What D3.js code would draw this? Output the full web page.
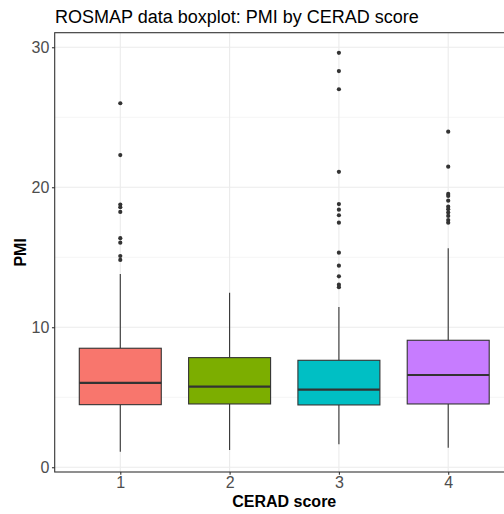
<!DOCTYPE html>
<html>
<head>
<meta charset="utf-8">
<script src="https://cdn.jsdelivr.net/npm/d3@7"></script>
<style>
html,body{margin:0;padding:0;background:#fff;}
svg{display:block;font-family:"Liberation Sans",Arial,Helvetica,sans-serif;}
</style>
</head>
<body>
<svg id="chart" width="504" height="514"></svg>
<script>
const categories = ["1", "2", "3", "4"];
const colors = ["#F8766D", "#7CAE00", "#00BFC4", "#C77CFF"];
const q1 = [4.47, 4.52, 4.45, 4.52];
const medians = [6.02, 5.76, 5.54, 6.59];
const q3 = [8.5, 7.83, 7.64, 9.07];
const whiskerLow = [1.11, 1.24, 1.64, 1.4];
const whiskerHigh = [13.8, 12.46, 11.45, 15.64];
const outliers1 = [26.0, 22.3, 18.76, 18.57, 18.24, 16.36, 16.04, 15.09, 14.81];
const outliers2 = [];
const outliers3 = [29.6, 28.3, 27.0, 21.1, 18.8, 18.4, 18.0, 17.47, 15.33, 14.4, 13.64, 13.04, 12.86];
const outliers4 = [23.97, 21.47, 19.52, 19.38, 19.04, 18.61, 18.43, 18.19, 17.95, 17.66, 17.47];
const yTicks = [0, 10, 20, 30];
const yMinor = [5, 15, 25];

const outliers = [outliers1, outliers2, outliers3, outliers4];

(function() {
const svg = d3.select("#chart");
const pL = 54.7, pR = 513.8, pT = 32.7, pB = 472;

const x = d3.scalePoint().domain(categories).range([pL, pR]).padding(0.6);
const y = d3.scaleLinear().domain([-0.34, 31.04]).range([pB, pT]);
const step = x.step();
const bw = step * 0.75;

const g = svg.append("g");
g.append("rect").attr("x", pL).attr("y", pT).attr("width", pR - pL).attr("height", pB - pT).attr("fill", "#fff");

// grid
g.selectAll(".ymin").data(yMinor).enter().append("line")
  .attr("x1", pL).attr("x2", pR).attr("y1", d => y(d)).attr("y2", d => y(d))
  .attr("stroke", "#EBEBEB").attr("stroke-width", 0.55);
g.selectAll(".ymaj").data(yTicks).enter().append("line")
  .attr("x1", pL).attr("x2", pR).attr("y1", d => y(d)).attr("y2", d => y(d))
  .attr("stroke", "#EBEBEB").attr("stroke-width", 1.1);
g.selectAll(".xmaj").data(categories).enter().append("line")
  .attr("x1", d => x(d)).attr("x2", d => x(d)).attr("y1", pT).attr("y2", pB)
  .attr("stroke", "#EBEBEB").attr("stroke-width", 1.1);

// boxes
const data = categories.map((c, i) => ({c, i, q1: q1[i], med: medians[i], q3: q3[i], lo: whiskerLow[i], hi: whiskerHigh[i], out: outliers[i], col: colors[i]}));
const bg = g.selectAll(".box").data(data).enter().append("g");
bg.append("line").attr("x1", d => x(d.c)).attr("x2", d => x(d.c))
  .attr("y1", d => y(d.hi)).attr("y2", d => y(d.q3)).attr("stroke", "#333").attr("stroke-width", 1.1);
bg.append("line").attr("x1", d => x(d.c)).attr("x2", d => x(d.c))
  .attr("y1", d => y(d.lo)).attr("y2", d => y(d.q1)).attr("stroke", "#333").attr("stroke-width", 1.1);
bg.append("rect").attr("x", d => x(d.c) - bw / 2).attr("width", bw)
  .attr("y", d => y(d.q3)).attr("height", d => y(d.q1) - y(d.q3))
  .attr("fill", d => d.col).attr("stroke", "#333").attr("stroke-width", 1.1);
bg.append("line").attr("x1", d => x(d.c) - bw / 2).attr("x2", d => x(d.c) + bw / 2)
  .attr("y1", d => y(d.med)).attr("y2", d => y(d.med)).attr("stroke", "#333").attr("stroke-width", 2.2);
bg.each(function(d) {
  d3.select(this).selectAll("circle").data(d.out).enter().append("circle")
    .attr("cx", x(d.c)).attr("cy", v => y(v)).attr("r", 2.1).attr("fill", "#333");
});

// panel border
g.append("rect").attr("x", pL).attr("y", pT).attr("width", pR - pL).attr("height", pB - pT)
  .attr("fill", "none").attr("stroke", "#333").attr("stroke-width", 1.1);

// axes
const yAxis = d3.axisLeft(y).tickValues(yTicks).tickSize(2.75).tickPadding(2.6);
const ya = svg.append("g").attr("transform", `translate(${pL},0)`).call(yAxis);
const xAxis = d3.axisBottom(x).tickSize(2.75).tickPadding(2);
const xa = svg.append("g").attr("transform", `translate(0,${pB})`).call(xAxis);
[ya, xa].forEach(a => {
  a.select(".domain").remove();
  a.selectAll(".tick line").attr("stroke", "#333").attr("stroke-width", 1.1);
  a.selectAll(".tick text").attr("fill", "#4D4D4D").style("font-size", "16px").style("font-family", "Liberation Sans, Arial, sans-serif");
});

// titles
svg.append("text").attr("x", 55).attr("y", 22.5).text("ROSMAP data boxplot: PMI by CERAD score")
  .style("font-size", "18px").attr("fill", "#000");
svg.append("text").attr("x", (pL + pR) / 2).attr("y", 506.5).attr("text-anchor", "middle").text("CERAD score")
  .style("font-size", "16px").style("font-weight", "bold").attr("fill", "#000");
svg.append("text").attr("transform", `translate(26,${(pT + pB) / 2}) rotate(-90)`).attr("text-anchor", "middle").text("PMI")
  .style("font-size", "16px").style("font-weight", "bold").attr("fill", "#000");
})();
</script>
</body>
</html>
